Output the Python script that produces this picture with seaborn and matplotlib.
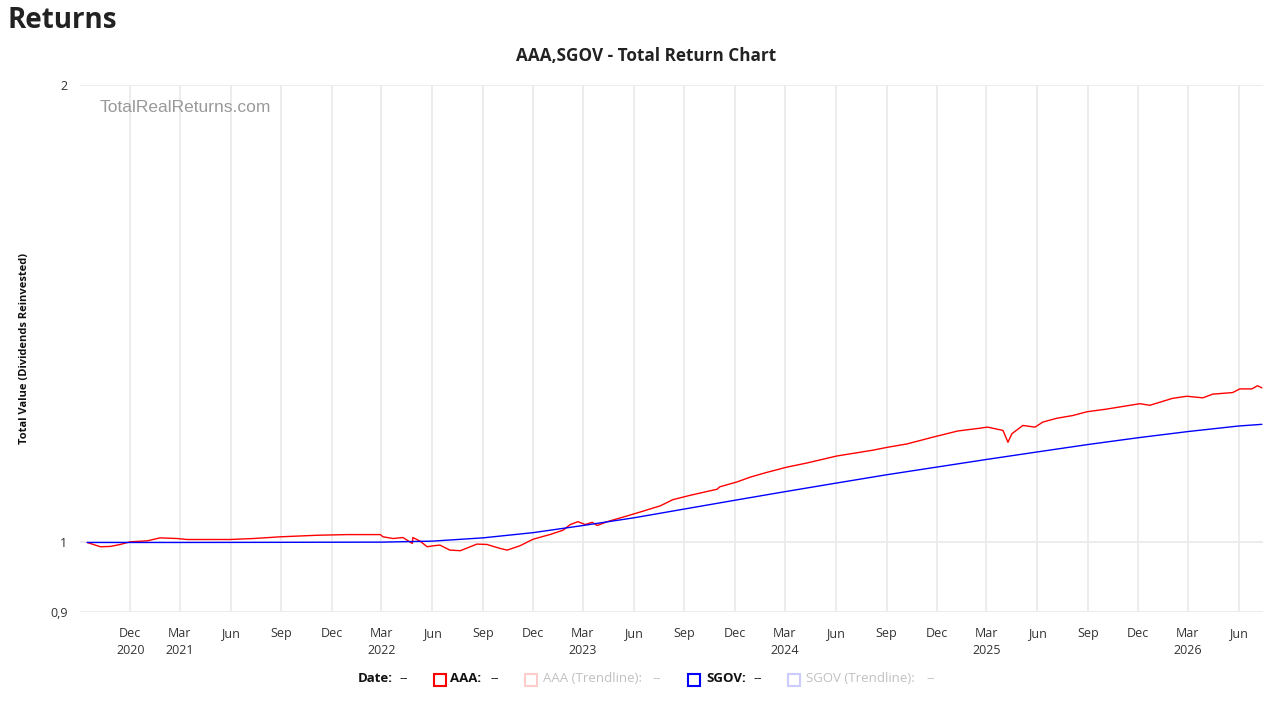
import matplotlib
matplotlib.use("Agg")
import matplotlib.pyplot as plt
import matplotlib.dates as mdates
from matplotlib.patches import Rectangle
from matplotlib.ticker import FixedLocator, FixedFormatter, NullLocator
import numpy as np
import pandas as pd
import seaborn as sns

# ---------------- data ----------------
aaa_dates = [
    "2020-09-14", "2020-10-08", "2020-10-26", "2020-11-13", "2020-12-01", "2021-01-01",
    "2021-01-24", "2021-02-24", "2021-03-14", "2021-05-31", "2021-07-12", "2021-08-30",
    "2021-11-05", "2021-12-29", "2022-02-27", "2022-03-04", "2022-03-22", "2022-04-09",
    "2022-04-26", "2022-04-27", "2022-05-10", "2022-05-23", "2022-06-03", "2022-06-15",
    "2022-07-03", "2022-07-22", "2022-08-21", "2022-09-08", "2022-10-02", "2022-10-15",
    "2022-11-07", "2022-12-01", "2022-12-31", "2023-01-24", "2023-02-06", "2023-02-20",
    "2023-03-05", "2023-03-18", "2023-03-27", "2023-04-14", "2023-05-20", "2023-06-12",
    "2023-07-19", "2023-08-11", "2023-09-11", "2023-10-30", "2023-11-04", "2023-12-05",
    "2023-12-29", "2024-01-28", "2024-03-05", "2024-04-10", "2024-06-03", "2024-08-07",
    "2024-09-02", "2024-10-08", "2024-11-24", "2025-01-08", "2025-02-17", "2025-03-03",
    "2025-03-31", "2025-04-09", "2025-04-16", "2025-05-06", "2025-05-28", "2025-06-11",
    "2025-07-06", "2025-08-04", "2025-08-30", "2025-10-05", "2025-12-04", "2025-12-22",
    "2026-02-01", "2026-02-27", "2026-03-28", "2026-04-15", "2026-05-21", "2026-06-03",
    "2026-06-25", "2026-07-05", "2026-07-13",
]
aaa_values = [
    1.000, 0.9935, 0.994, 0.997, 1.001, 1.0025,
    1.007, 1.006, 1.0045, 1.0045, 1.006, 1.0086,
    1.011, 1.012, 1.012, 1.0086, 1.006, 1.0075,
    0.9985, 1.0075, 1.002, 0.9935, 0.995, 0.996,
    0.9885, 0.9876, 0.9975, 0.997, 0.991, 0.9885,
    0.995, 1.005, 1.012, 1.0187, 1.0275, 1.032,
    1.0275, 1.031, 1.026, 1.032, 1.041, 1.047,
    1.057, 1.067, 1.074, 1.084, 1.088, 1.096,
    1.104, 1.112, 1.121, 1.128, 1.140, 1.150,
    1.155, 1.161, 1.173, 1.184, 1.189, 1.191,
    1.185, 1.164, 1.179, 1.194, 1.191, 1.200,
    1.207, 1.212, 1.219, 1.224, 1.234, 1.231,
    1.244, 1.248, 1.245, 1.252, 1.255, 1.262,
    1.262, 1.268, 1.264,
]

sgov_dates = [
    "2020-09-14", "2021-03-01", "2021-09-01", "2022-03-01", "2022-06-01", "2022-09-01",
    "2022-12-01", "2023-03-01", "2023-06-01", "2023-09-01", "2023-12-01", "2024-03-01",
    "2024-06-01", "2024-09-01", "2024-12-01", "2025-03-01", "2025-06-01", "2025-09-01",
    "2025-12-01", "2026-03-01", "2026-06-01", "2026-07-13",
]
sgov_values = [
    1.000, 1.000, 1.0002, 1.0005, 1.002, 1.007,
    1.015, 1.026, 1.038, 1.052, 1.066, 1.080,
    1.094, 1.108, 1.121, 1.134, 1.147, 1.160,
    1.172, 1.183, 1.193, 1.196,
]

series_names = ["AAA", "SGOV"]
series_colors = ["#ff0000", "#0000ff"]
y_ticks = [0.9, 1.0, 2.0]
y_tick_labels = ["0,9", "1", "2"]
x_month_names = {3: "Mar", 6: "Jun", 9: "Sep", 12: "Dec"}
x_range = ["2020-09-01", "2026-07-15"]
y_range = [0.9, 2.0]

chart_title = "AAA,SGOV - Total Return Chart"
page_title = "Returns"
y_label = "Total Value (Dividends Reinvested)"
watermark = "TotalRealReturns.com"

# ---------------- figure ----------------
sns.set_theme(style="white")
plt.rcParams["font.family"] = ["Open Sans", "DejaVu Sans"]

W, H = 1280, 703
fig = plt.figure(figsize=(W / 100, H / 100), dpi=100)
ax = fig.add_axes([80 / W, 1 - 612 / H, (1263 - 80) / W, (612 - 85) / H])

df_aaa = pd.DataFrame({"date": pd.to_datetime(aaa_dates), "value": aaa_values})
df_sgov = pd.DataFrame({"date": pd.to_datetime(sgov_dates), "value": sgov_values})

sns.lineplot(data=df_aaa, x="date", y="value", color=series_colors[0],
             linewidth=1.0, ax=ax, estimator=None)
sns.lineplot(data=df_sgov, x="date", y="value", color=series_colors[1],
             linewidth=1.0, ax=ax, estimator=None)

ax.set_yscale("log")
ax.set_ylim(*y_range)
ax.set_xlim(pd.Timestamp(x_range[0]), pd.Timestamp(x_range[1]))

ax.yaxis.set_major_locator(FixedLocator(y_ticks))
ax.yaxis.set_major_formatter(FixedFormatter(y_tick_labels))
ax.yaxis.set_minor_locator(NullLocator())

# quarterly ticks
qdates = pd.date_range("2020-12-01", "2026-06-01", freq="3MS")
xt = [mdates.date2num(d) for d in qdates]
xl = []
for d in qdates:
    lab = x_month_names[d.month]
    if d.month == 3 or (d.year == 2020 and d.month == 12):
        lab += "\n" + str(d.year)
    xl.append(lab)
ax.set_xticks(xt)
ax.set_xticklabels(xl)

grid_c = "#ebebeb"
ax.grid(True, axis="both", color=grid_c, linewidth=1.3)
ax.set_axisbelow(True)
for s in ax.spines.values():
    s.set_visible(False)
ax.tick_params(axis="x", length=6, width=1.3, color=grid_c, pad=5,
               labelsize=9, labelcolor="#333333")
ax.tick_params(axis="y", length=5, width=1.3, color=grid_c, pad=4,
               labelsize=9, labelcolor="#333333")
for lab in ax.get_xticklabels():
    lab.set_linespacing(1.35)

ax.set_xlabel("")
ax.set_ylabel(y_label, fontsize=8, fontweight="bold", color="#111111")
ax.yaxis.set_label_coords(-50 / 1183, 0.5)

# texts
fig.text(7 / W, 1 - 21 / H, page_title, fontsize=20, fontweight="bold",
         color="#222222", ha="left", va="center")
fig.text(646 / W, 1 - 56 / H, chart_title, fontsize=12.3, fontweight="bold",
         color="#222222", ha="center", va="center")
ax.text(100 / W, 1 - 108 / H, watermark, transform=fig.transFigure,
        fontsize=12.5, color="#999999", ha="left", va="center",
        family=["Liberation Sans", "DejaVu Sans"])

# legend (bottom row)
ly = 1 - 679 / H
def leg_text(x, s, color, bold):
    fig.text(x / W, ly, s, fontsize=9.5, color=color,
             fontweight="bold" if bold else "normal", ha="left", va="center")

def leg_box(x, color):
    fig.add_artist(Rectangle((x / W, 1 - 686 / H), 12 / W, 12 / H,
                             transform=fig.transFigure, fill=False,
                             edgecolor=color, linewidth=1.5))

leg_text(358, "Date:", "#111111", True)
leg_text(399, "--", "#111111", False)
leg_box(434, series_colors[0])
leg_text(450, series_names[0] + ":", "#111111", True)
leg_text(490, "--", "#111111", False)
leg_box(525, "#ffcccc")
leg_text(543, series_names[0] + " (Trendline):", "#c0c0c0", False)
leg_text(652, "--", "#c0c0c0", False)
leg_box(688, series_colors[1])
leg_text(706, series_names[1] + ":", "#111111", True)
leg_text(753, "--", "#111111", False)
leg_box(788, "#ccccff")
leg_text(806, series_names[1] + " (Trendline):", "#c0c0c0", False)
leg_text(926, "--", "#c0c0c0", False)

fig.savefig("out.png", dpi=100)
